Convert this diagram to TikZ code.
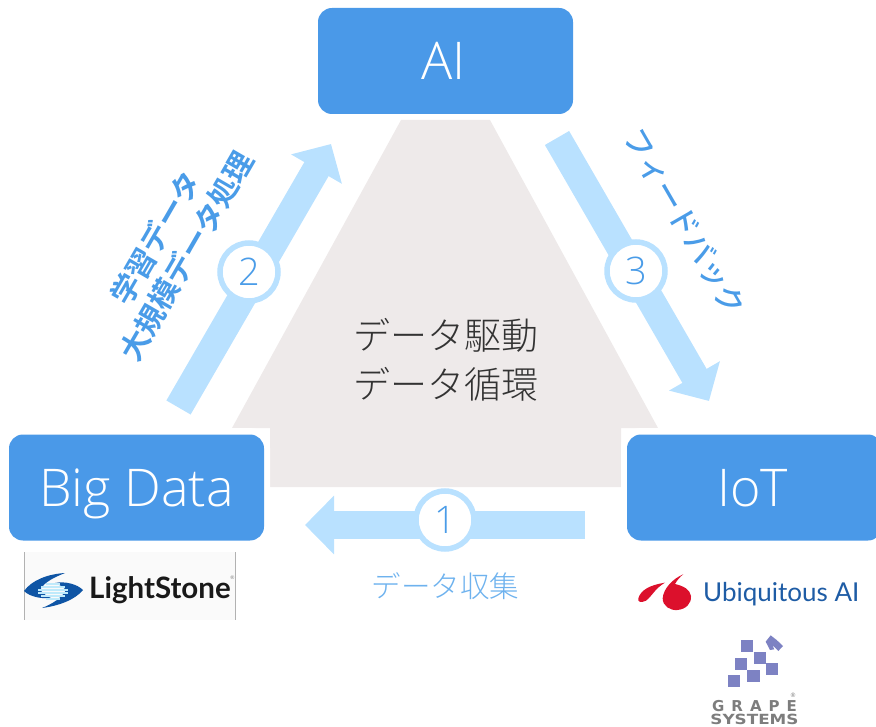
\documentclass[tikz,border=0pt]{standalone}
\usepackage{fontspec}
\setmainfont{Open Sans Light}
\newfontfamily\cjklight[UprightFont=* Light,BoldFont=* Bold]{Noto Sans CJK JP}
\newfontfamily\cjkmedium[UprightFont=* Medium]{Noto Sans CJK JP}
\newfontfamily\logosans{Lato}
\newfontfamily\logobold{DejaVu Sans}
\definecolor{boxblue}{RGB}{74,153,232}
\definecolor{arrowblue}{RGB}{185,225,255}
\definecolor{labelblue}{RGB}{74,156,232}
\definecolor{softblue}{RGB}{110,178,238}
\definecolor{trigrey}{RGB}{238,234,234}
\definecolor{ubiblue}{RGB}{30,92,165}
\definecolor{ubired}{RGB}{220,16,44}
\definecolor{grapeblue}{RGB}{125,130,195}
\definecolor{grapegrey}{RGB}{125,125,125}
\definecolor{lsblue}{RGB}{15,85,165}
\usetikzlibrary{arrows.meta}
\tikzset{
    stagebox/.style={fill=boxblue, rounded corners=14pt, minimum width=255pt, minimum height=106pt, inner sep=0pt, text=white, text height=37pt, text depth=0pt, font=\fontsize{52}{52}\selectfont},
    halo/.style={fill=white, rounded corners=20pt},
    flowarrow/.style={line width=28pt, draw=arrowblue, -{Triangle[length=29pt,width=57pt]}},
    stepring/.style={circle, draw=arrowblue, line width=5.5pt, fill=white, minimum size=58pt, inner sep=0pt, text=labelblue, font=\fontsize{38}{38}\selectfont},
    sidelabel/.style={text=labelblue, align=center, font=\cjklight\bfseries\fontsize{29.5}{36}\selectfont}
}
\begin{document}
\begin{tikzpicture}[x=1pt,y=-1pt]
    \useasboundingbox (0,0) rectangle (876,727);

    % Grey triangle behind the text
    \fill[trigrey] (401,120) -- (490,120) -- (658,428) -- (621,428) -- (621,487) -- (270,487) -- (270,428) -- (232,428) -- cycle;
    \fill[halo] (3,428) rectangle (270,547);
    \fill[halo] (621,428) rectangle (900,547);

    % Boxes
    \node[stagebox] (ai) at (445.5,61) {\hspace*{-4pt}AI};
    \node[stagebox] (bigdata) at (136.5,487.5) {Big Data};
    \node[stagebox] (iot) at (754.5,487.5) {\hspace*{-4pt}IoT};

    % Flow arrows
    \coordinate (tail1) at (585,525);
    \coordinate (tip1) at (305,525);
    \coordinate (tail2) at (178.5,407.5);
    \coordinate (tip2) at (331,144);
    \coordinate (tail3) at (557,138);
    \coordinate (tip3) at (709,401);
    \draw[flowarrow] (tail1) -- (tip1);
    \draw[flowarrow] (tail2) -- (tip2);
    \draw[flowarrow] (tail3) -- (tip3);
    \node[stepring] (step1) at (445,520) {1};
    \node[stepring] (step2) at (249,272) {2};
    \node[stepring] (step3) at (636,271) {3};

    % Labels
    \node[font=\cjklight\fontsize{37}{49}\selectfont, align=center, text=black!80] (center) at (445.5,360) {データ駆動\\データ循環};
    \node[font=\cjklight\fontsize{29.5}{29}\selectfont, text=softblue] (collect) at (445.5,586) {データ収集};
    \node[sidelabel, rotate=60] (learn) at (171,247) {学習データ\\大規模データ処理};
    \node[sidelabel, rotate=-60, font=\cjkmedium\fontsize{30}{36}\selectfont] (feedback) at (685,222) {フィードバック};

    % LightStone logo
    \fill[black!2] (24,552) rectangle (235.5,620);
    \draw[black!30] (24,552) -- (24,620) (235.5,552) -- (235.5,620);
    \node[font=\logosans\bfseries\fontsize{29.5}{29.5}\selectfont, text=black!90, inner sep=0pt, anchor=west] (lightstone) at (89,590) {LightStone};
    \node[font=\logosans\fontsize{5}{5}\selectfont, text=black!50, inner sep=0pt] (lsmark) at (232.5,578) {®};
    \fill[lsblue] (24,591) .. controls (32,580) and (48,574) .. (65,573) .. controls (55,577) and (44,582) .. (40,590) .. controls (44,594) and (48,597) .. (51,598) .. controls (42,599) and (30,597) .. cycle;
    \fill[lsblue] (83,590) .. controls (75,600) and (58,606) .. (42,608) .. controls (52,604) and (62,598) .. (66,590) .. controls (62,586) and (58,584) .. (55,583) .. controls (65,581) and (77,584) .. cycle;
    \foreach \ypos/\halfw in {583/7,586/12,589/15,592/15,595/12,598/7}
        \fill[cyan!25] (53-\halfw,\ypos) rectangle (53+\halfw,\ypos+1.6);

    % Ubiquitous AI logo
    \begin{scope}[shift={(620,560)},scale=1/3]
        \fill[ubired] (55,115) .. controls (62,90) and (90,75) .. (135,68) .. controls (105,85) and (95,110) .. (78,122) .. controls (65,128) and (52,128) .. cycle;
        \fill[ubired] (190,43) .. controls (160,55) and (130,85) .. (128,115) .. controls (128,138) and (150,152) .. (172,150) .. controls (198,148) and (215,130) .. (213,108) .. controls (210,88) and (190,78) .. (165,72) .. controls (172,60) and (180,50) .. cycle;
    \end{scope}
    \node[font=\logosans\fontsize{26}{26}\selectfont, text=ubiblue, inner sep=0pt, anchor=west] (ubiquitous) at (703,594) {Ubiquitous AI};

    % Grape Systems logo
    \begin{scope}[shift={(620,560)},scale=1/3]
        \foreach \xpos/\ypos in {362/240,344/294,402/276,438/310,382/330,324/346}
            \fill[grapeblue] (\xpos,\ypos) rectangle (\xpos+37,\ypos+36);
        \fill[grapeblue] (437,245) -- (452,226) -- (470,240) -- (489,258) -- (475,273) -- (457,255) -- (463,268) -- (450,270) -- cycle;
    \end{scope}
    \node[font=\logobold\bfseries\fontsize{15}{15}\selectfont, text=grapegrey, inner sep=0pt] (grape) at (754.5,706.5) {G\hspace{7pt}R\hspace{7pt}A\hspace{7pt}P\hspace{7pt}E};
    \node[font=\logobold\bfseries\fontsize{14}{14}\selectfont, text=grapegrey, inner sep=0pt, xscale=1.2, transform shape] (systems) at (754.5,719) {SYSTEMS};
    \node[font=\logosans\fontsize{6}{6}\selectfont, text=grapegrey, inner sep=0pt] (grapemark) at (793,695) {®};
\end{tikzpicture}
\end{document}
